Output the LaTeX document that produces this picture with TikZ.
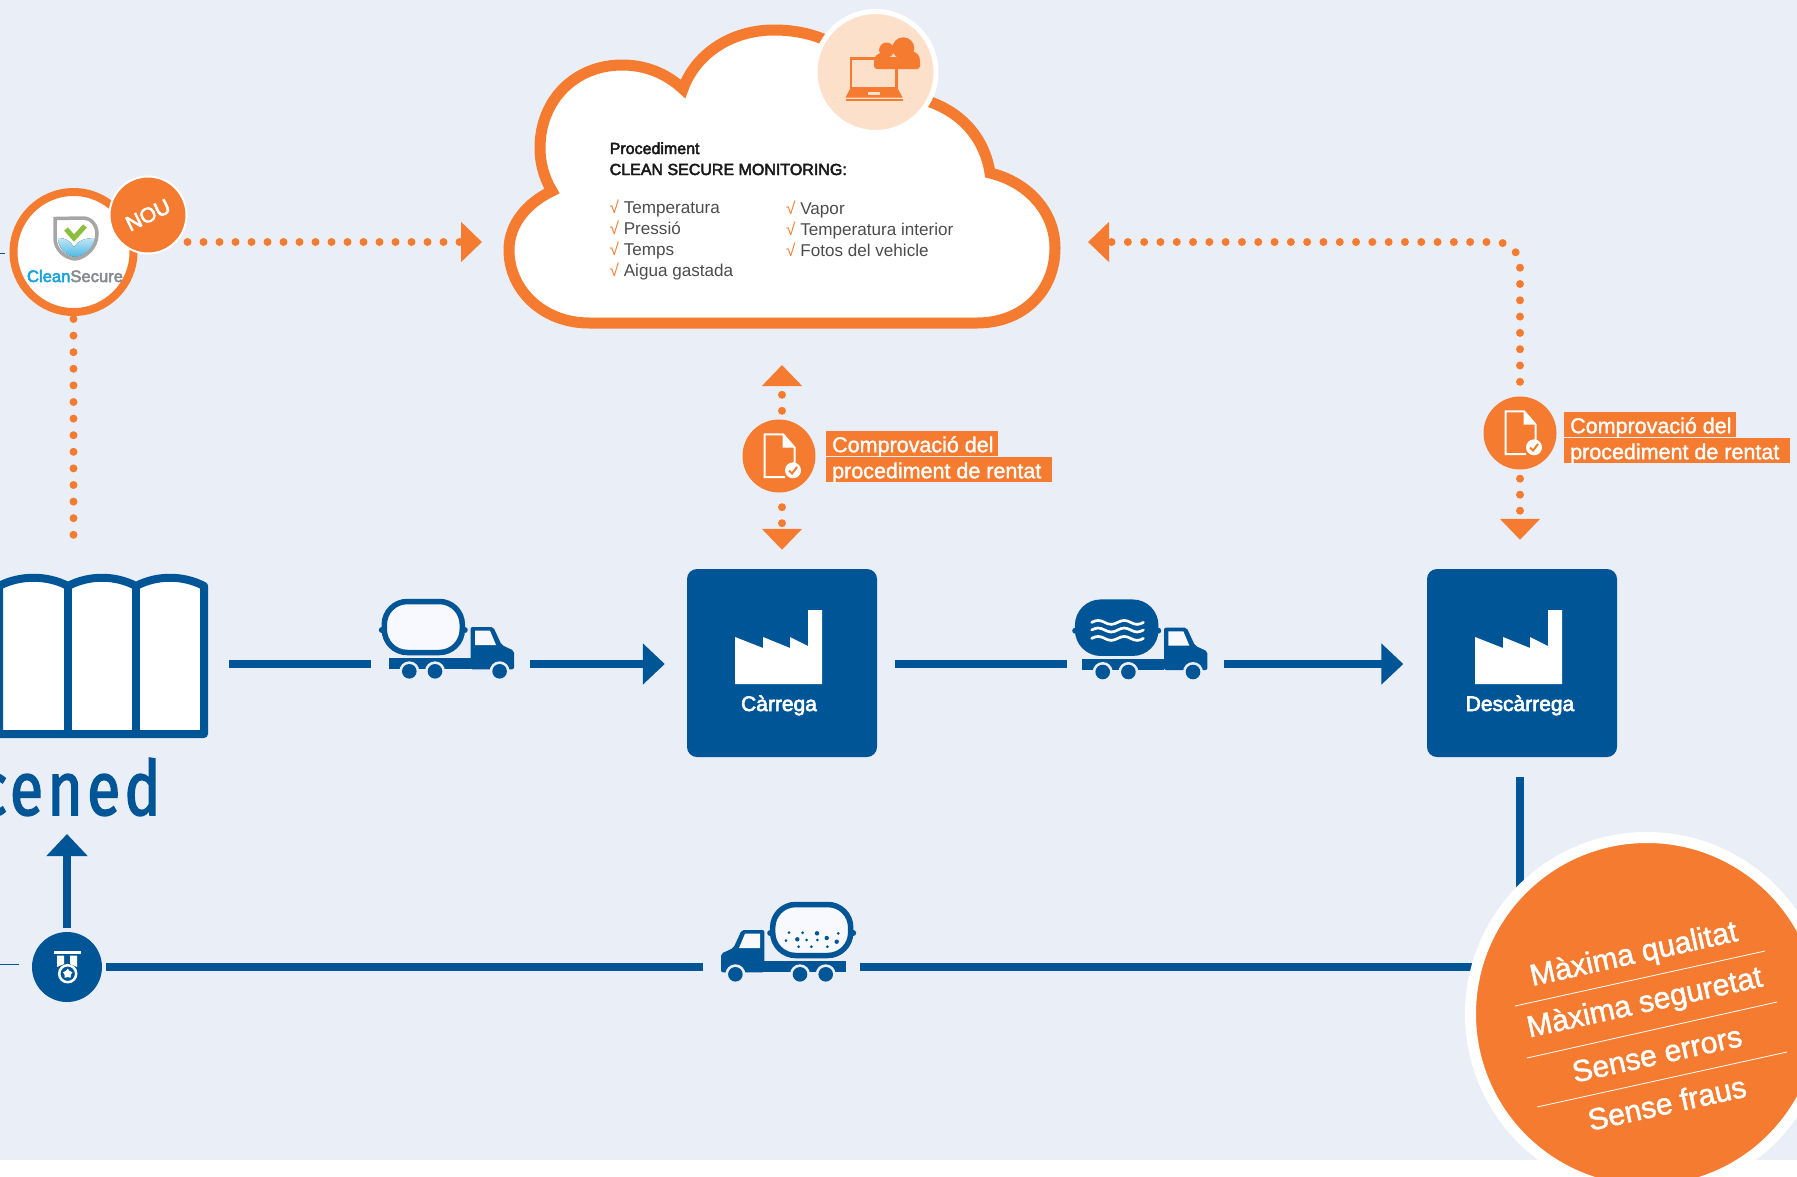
\documentclass[tikz,border=0pt]{standalone}
\usepackage{fontspec}
\setmainfont{Liberation Sans}
\newfontfamily\mediumfont[FakeBold=3]{Liberation Sans}
\newfontfamily\tagfont[FakeBold=1.5]{Liberation Sans}
\newfontfamily\logofont[FakeStretch=0.8,FakeBold=2,LetterSpace=5.5]{Fira Sans}
\usetikzlibrary{positioning,arrows.meta,shapes.geometric}
\definecolor{paleblue}{HTML}{EAEFF7}
\definecolor{deepblue}{HTML}{005596}
\definecolor{hotorange}{HTML}{F57B30}
\definecolor{peach}{HTML}{FDE0CA}
\definecolor{tankwhite}{HTML}{F7F9FE}
\definecolor{cleancyan}{HTML}{1AA3DB}
\definecolor{securegrey}{HTML}{868A90}
\definecolor{shieldgreen}{HTML}{8CBF3F}
\definecolor{shieldblue}{HTML}{4DB8E4}
\definecolor{shieldsky}{HTML}{BFE6F5}

\begin{document}
\begin{tikzpicture}[
        x=1pt, y=-1pt,
        flow/.style={draw=deepblue, line width=8pt},
        flowtip/.style={flow, -{Triangle[length=22pt,width=40pt]}},
        dotline/.style={draw=hotorange, line width=8pt, line cap=round, dash pattern=on 0pt off 16pt},
        dottip/.style={dotline, -{Triangle[length=21pt,width=39pt]}},
        thinline/.style={draw=deepblue, line width=1pt},
        factory/.style={rectangle, fill=deepblue, rounded corners=10pt, minimum width=190pt, minimum height=188pt},
        factorylabel/.style={anchor=base, text=white, font=\mediumfont\fontsize{21}{25}\selectfont},
        checkdisc/.style={circle, fill=hotorange, minimum size=73pt, inner sep=0pt},
        tag/.style={anchor=north west, fill=hotorange, text=white, inner sep=0pt, align=flush left,
            text height=21pt, text depth=4pt, execute at begin node=\hspace*{6pt},
            font=\tagfont\fontsize{21.5}{25}\selectfont},
        promise/.style={text=white, rotate=12.4, font=\tagfont\fontsize{30.2}{34}\selectfont},
        listtext/.style={anchor=base west, inner sep=0pt, align=left, text=black!70,
            font=\fontsize{17.1}{21}\selectfont},
        pics/truck/.style={code={
            \fill[deepblue] (-41.5,3) circle[radius=3] (41.5,3) circle[radius=3];
            \draw[deepblue, line width=5.5pt, fill=#1, rounded corners=23pt] (-39,-25.5) rectangle (39,25.5);
            \fill[deepblue] (-34.3,31.3) rectangle (47.3,42.3);
            \fill[deepblue, rounded corners=2pt] (47.3,42.3) -- (47.3,0) -- (70,0) -- (78.3,18) -- (90.7,23.7) -- (90.7,42.3) -- cycle;
            \fill[tankwhite] (51.7,3.7) -- (66.7,3.7) -- (72.7,18) -- (51.7,18) -- cycle;
            \fill[paleblue] (-14,44.3) circle[radius=10] (11.7,44.3) circle[radius=10] (76.3,44.3) circle[radius=10];
            \fill[deepblue] (-14,44.3) circle[radius=7.3] (11.7,44.3) circle[radius=7.3] (76.3,44.3) circle[radius=7.3];
        }},
        pics/factoryicon/.style={code={
            \fill[white] (-47,21) -- (-47,-26) -- (-19,-15) -- (-19,-26) -- (8,-15) -- (8,-26) -- (26,-17) -- (26,-53) -- (40,-53) -- (40,21) -- cycle;
        }},
        pics/docicon/.style={code={
            \draw[white, line width=2pt] (6,21) -- (-14.3,21) -- (-14.3,-21.7) -- (4,-21.7) -- (15.7,-8.3) -- (15.7,8);
            \fill[white] (3.5,-21.7) -- (3.5,-8.3) -- (15.7,-8.3) -- cycle;
            \fill[white] (14,14.3) circle[radius=8];
            \draw[hotorange, line width=2pt] (10,14.5) -- (13,17.5) -- (18,11);
        }}
    ]
        \clip[use as bounding box] (0,0) rectangle (1797,1176);
        \fill[white] (0,0) rectangle (1797,1176);
        \fill[paleblue] (0,0) rectangle (1797,1160);

        % Thin ends at the left edge
        \coordinate (edgeA) at (0,253);
        \coordinate (edgeB) at (5,253);
        \coordinate (edgeC) at (0,964);
        \coordinate (edgeD) at (19,964);
        \draw[thinline] (edgeA) -- (edgeB);
        \draw[thinline] (edgeC) -- (edgeD);

        % Cloud
        \draw[draw=hotorange, line width=11pt, fill=white, miter limit=10] (589,323)
            .. controls (543,323) and (509,290) .. (509,250)
            .. controls (509,224) and (527,203) .. (552,191)
            .. controls (544,178) and (540,163) .. (540,148)
            .. controls (540,100) and (575,65) .. (622,65)
            .. controls (645,65) and (666,73) .. (683,89)
            .. controls (695,55) and (730,30) .. (774,30)
            .. controls (810,30) and (840,42) .. (870,70)
            .. controls (890,85) and (910,95) .. (933,103)
            .. controls (964,115) and (985,140) .. (990,173)
            .. controls (1028,182) and (1055,212) .. (1055,248)
            .. controls (1055,292) and (1022,323) .. (977,323) -- cycle;
        \coordinate (cloudleft) at (482,242);
        \coordinate (cloudright) at (1088,242);
        \coordinate (cloudbottom) at (782,365);

        % Laptop badge on the cloud
        \node[circle, fill=peach, draw=white, line width=5pt, minimum size=121pt, inner sep=0pt] (laptopbadge) at (875.5,72) {};
        \draw[hotorange, line width=2.5pt] (851,58.5) rectangle (896.5,88);
        \fill[hotorange] (850,89) -- (898,89) -- (902.5,97.5) -- (845.5,97.5) -- cycle;
        \fill[peach] (868,92) rectangle (880,95);
        \fill[hotorange] (845.5,98.5) rectangle (902.5,100.5);
        \fill[hotorange, rounded corners=3pt] (874,69) -- (874,58) -- (920,58) -- (920,69) -- cycle;
        \fill[hotorange] (886.6,50) circle[radius=7.5] (903.3,48.3) circle[radius=11] (911.4,60) circle[radius=8.5] (882,61) circle[radius=8];

        % Cloud text
        \node[listtext, text=black!90, font=\mediumfont\fontsize{16}{21}\selectfont] (monitortitle) at (609.5,175) {Procediment\\CLEAN SECURE MONITORING:};
        \node[listtext] (listleft) at (609.5,276) {{\color{hotorange}√} Temperatura\\{\color{hotorange}√} Pressió\\{\color{hotorange}√} Temps\\{\color{hotorange}√} Aigua gastada};
        \node[listtext] (listright) at (786,256) {{\color{hotorange}√} Vapor\\{\color{hotorange}√} Temperatura interior\\{\color{hotorange}√} Fotos del vehicle};

        % CleanSecure and its badge
        \node[circle, draw=hotorange, fill=white, line width=8pt, minimum size=120pt, inner sep=0pt] (cleansecure) at (73.5,252) {};
        \fill[bottom color=shieldblue, top color=shieldsky] (58,238) .. controls (66,238) and (70,241) .. (74,247) .. controls (78,241) and (84,238) .. (95,238) .. controls (94,248) and (84,256) .. (75,257) .. controls (66,256) and (58,248) .. (58,238) -- cycle;
        \draw[black!35, line width=3.5pt] (55,218.5) -- (83,218) .. controls (92,218) and (97,226) .. (97,234) .. controls (97,248) and (85,258) .. (75,259) .. controls (65,258) and (55,250) .. (55,238) -- cycle;
        \draw[shieldgreen, line width=5pt] (66,229) -- (74,238) -- (85,226);
        \node[inner sep=0pt, anchor=base, font=\mediumfont\fontsize{16.6}{20}\selectfont] (cleanname) at (75,282) {\textcolor{cleancyan}{Clean}\textcolor{securegrey}{Secure}};
        \node[circle, fill=hotorange, draw=white, line width=2pt, minimum size=77pt, inner sep=0pt] (nou) at (148,215) {};
        \node[text=white, rotate=26, inner sep=0pt, font=\mediumfont\fontsize{21}{25}\selectfont] (noulabel) at (nou) {NOU};

        % Dotted links
        \coordinate (depotup) at (73.5,537);
        \draw[dotline, dash pattern=on 0pt off 16.6pt, shorten <=3pt] (cleansecure.south) -- (depotup);
        \draw[dottip] (nou.east |- cloudleft) -- (cloudleft);

        % Factories
        \node[factory] (carrega) at (782,663) {};
        \node[factory] (descarrega) at (1522,663) {};
        \pic at (carrega) {factoryicon};
        \pic at (descarrega) {factoryicon};
        \node[factorylabel] (carregalabel) at ([xshift=-3pt,yshift=-48pt]carrega.center) {Càrrega};
        \node[factorylabel] (descarregalabel) at ([xshift=-2pt,yshift=-48pt]descarrega.center) {Descàrrega};

        % Checks on the cloud links
        \node[checkdisc] (checkA) at (779,456) {};
        \node[checkdisc] (checkB) at (1520,433) {};
        \pic at (checkA) {docicon};
        \pic at (checkB) {docicon};
        \node[tag, text width=172pt] (tagAa) at (826,431) {Comprovació del};
        \node[tag, text width=226pt] (tagAb) at (826,457) {procediment de rentat};
        \node[tag, text width=172pt] (tagBa) at (1564,412) {Comprovació del};
        \node[tag, text width=226pt] (tagBb) at (1564,438) {procediment de rentat};

        \draw[dottip, shorten <=8.5pt] (checkA.north -| carrega.north) -- (cloudbottom);
        \draw[dottip, shorten <=14.5pt, shorten >=19pt] (checkA.south -| carrega.north) -- (carrega.north);
        \draw[dottip, dash pattern=on 0pt off 16.3pt, shorten <=14.5pt, rounded corners=24pt] (checkB.north) -- (checkB.north |- cloudright) -- (cloudright);
        \draw[dottip, shorten <=9pt, shorten >=29pt] (checkB.south) -- (checkB.south |- descarrega.north);

        % Depot
        \draw[flow, fill=white, line join=round] (-1,734) -- (-1,586)
            .. controls (20,575) and (47,575) .. (68,586)
            .. controls (89,575) and (115,575) .. (136,586)
            .. controls (157,575) and (183,575) .. (204,586) -- (204,734) -- cycle;
        \draw[flow] (68,586) -- (68,734);
        \draw[flow] (136,586) -- (136,734);
        \node[anchor=base east, inner sep=0pt, text=deepblue, font=\logofont\fontsize{76}{80}\selectfont] (depotname) at (161,815) {cened};

        % Trucks
        \pic at (423.3,627) {truck=tankwhite};
        \pic at (1116.7,627.7) {truck=deepblue};
        \pic[xscale=-1] at (811.7,930) {truck=tankwhite};
        \draw[white, line width=2.7pt, line cap=round] (1091.7,622.4) sin (1098.2,620.4) cos (1104.7,622.4) sin (1111.2,624.4) cos (1117.7,622.4) sin (1124.2,620.4) cos (1130.7,622.4) sin (1137.2,624.4) cos (1143.4,622.4);
        \draw[white, line width=2.7pt, line cap=round] (1091.7,630) sin (1098.2,628) cos (1104.7,630) sin (1111.2,632) cos (1117.7,630) sin (1124.2,628) cos (1130.7,630) sin (1137.2,632) cos (1143.4,630);
        \draw[white, line width=2.7pt, line cap=round] (1091.7,638.4) sin (1098.2,636.4) cos (1104.7,638.4) sin (1111.2,640.4) cos (1117.7,638.4) sin (1124.2,636.4) cos (1130.7,638.4) sin (1137.2,640.4) cos (1143.4,638.4);
        \fill[deepblue] (789,932.7) circle[radius=1.5] (802.7,932.7) circle[radius=1.5] (817,933.3) circle[radius=2.2] (838.3,933.3) circle[radius=1.5]
            (786,940.7) circle[radius=1.5] (797.3,939.3) circle[radius=2.2] (806.7,940) circle[radius=1.5] (817.3,940) circle[radius=1.5] (826.7,938) circle[radius=2.2] (836.7,941.7) circle[radius=2.2]
            (798.7,946.7) circle[radius=1.5] (811.3,946.7) circle[radius=1.5] (827.3,946.7) circle[radius=1.5];

        % Main flow
        \coordinate (depotout) at (229,664);
        \coordinate (truckAin) at (371,664);
        \coordinate (truckAout) at (530,664);
        \coordinate (truckBin) at (895,664);
        \coordinate (truckBout) at (1067,664);
        \coordinate (truckBnext) at (1224,664);
        \coordinate (truckCout) at (860,967);
        \coordinate (truckCin) at (703,967);
        \coordinate (bigcentre) at (1647,1014);
        \coordinate (depotin) at (67,834);
        \draw[flow] (depotout) -- (truckAin);
        \draw[flowtip, shorten >=22pt] (truckAout) -- (truckAout -| carrega.west);
        \draw[flow] (truckBin) -- (truckBout);
        \draw[flowtip, shorten >=23.5pt] (truckBnext) -- (truckBnext -| descarrega.west);
        \draw[flow, shorten <=20pt] (checkB |- descarrega.south) -- (checkB |- bigcentre);
        \draw[flow] (bigcentre |- truckCout) -- (truckCout);

        % Medal
        \node[circle, fill=deepblue, minimum size=70pt, inner sep=0pt] (medal) at (67,967) {};
        \draw[flow, shorten >=4pt] (truckCin) -- (medal.east);
        \draw[flowtip, shorten <=4pt] (medal.north) -- (depotin);
        \fill[white] (53.5,951) rectangle (81,954);
        \fill[white] (57,955.5) -- (64,955.5) -- (64,964) -- (57,967) -- cycle;
        \fill[white] (70,955.5) -- (77,955.5) -- (77,967) -- (70,964) -- cycle;
        \draw[white, line width=2.5pt] (67.7,973.7) circle[radius=8.5];
        \node[star, star points=5, fill=white, minimum size=10pt, inner sep=0pt] (medalstar) at (67.7,973.7) {};

        % Big disc
        \node[circle, fill=hotorange, draw=white, line width=11pt, minimum size=353pt, inner sep=0pt] (bigdisc) at (bigcentre) {};
        \node[promise] (promiseA) at (1634,955.5) {Màxima qualitat};
        \node[promise] (promiseB) at (1645,1004) {Màxima seguretat};
        \node[promise] (promiseC) at (1657,1054) {Sense errors};
        \node[promise] (promiseD) at (1667,1103) {Sense fraus};
        \draw[white, line width=0.8pt] (1515,1006) -- (1765,951);
        \draw[white, line width=0.8pt] (1527,1058) -- (1777,1002);
        \draw[white, line width=0.8pt] (1537,1107) -- (1787,1052);
    \end{tikzpicture}
\end{document}
